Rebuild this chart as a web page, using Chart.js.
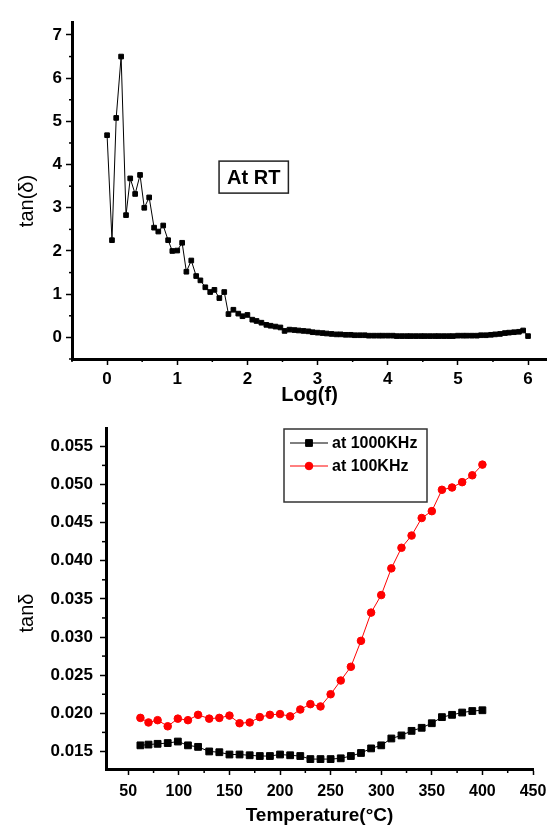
<!DOCTYPE html>
<html><head><meta charset="utf-8">
<script src="https://cdn.jsdelivr.net/npm/chart.js@4.4.1/dist/chart.umd.min.js"></script>
<style>
html,body{margin:0;padding:0;background:#fff;}
#wrap{position:relative;width:547px;height:827px;}
canvas{position:absolute;left:0;}
#c1{top:0;} #c2{top:410px;}
</style></head><body>
<div id="wrap"><canvas id="c1" width="547" height="410"></canvas><canvas id="c2" width="547" height="417"></canvas></div>
<script>
// ---------- Top chart data (tan δ vs log f at room temperature) ----------
const logF = [0.00,0.07,0.13,0.20,0.27,0.33,0.40,0.47,0.53,0.60,0.67,0.73,0.80,0.87,0.93,1.00,1.07,1.13,1.20,1.27,1.33,1.40,1.47,1.53,1.60,1.67,1.73,1.80,1.87,1.93,
  2.00,2.07,2.13,2.20,2.27,2.33,2.40,2.47,2.53,2.60,2.67,2.73,2.80,2.87,2.93,3.00,3.07,3.13,3.20,3.27,3.33,3.40,3.47,3.53,3.60,3.67,3.73,3.80,3.87,3.93,
  4.00,4.07,4.13,4.20,4.27,4.33,4.40,4.47,4.53,4.60,4.67,4.73,4.80,4.87,4.93,5.00,5.07,5.13,5.20,5.27,5.33,5.40,5.47,5.53,5.60,5.67,5.73,5.80,5.87,5.93,6.00];
const tanRT = [4.68,2.25,5.08,6.50,2.83,3.68,3.32,3.76,3.00,3.24,2.54,2.45,2.59,2.25,2.00,2.01,2.19,1.52,1.78,1.42,1.32,1.16,1.05,1.10,0.91,1.05,0.54,0.64,0.55,0.49,
  0.52,0.41,0.38,0.34,0.29,0.27,0.25,0.23,0.15,0.18,0.17,0.16,0.15,0.14,0.12,0.11,0.10,0.09,0.08,0.07,0.07,0.06,0.06,0.05,0.05,0.05,0.04,0.04,0.04,0.04,
  0.04,0.04,0.03,0.03,0.03,0.03,0.03,0.03,0.03,0.03,0.03,0.03,0.03,0.03,0.03,0.04,0.04,0.04,0.04,0.04,0.05,0.05,0.06,0.07,0.08,0.10,0.11,0.12,0.13,0.16,0.03];
const logTicks = [0,1,2,3,4,5,6];
const logMinor = [-0.5,0.5,1.5,2.5,3.5,4.5,5.5];
const tanTicksTop = [0,1,2,3,4,5,6,7];
const tanMinorTop = [-0.5,0.5,1.5,2.5,3.5,4.5,5.5,6.5];

// ---------- Bottom chart data (tan δ vs temperature) ----------
const temps = [62,70,79,89,99,109,119,130,140,150,160,170,180,190,200,210,220,230,240,250,260,270,280,290,300,310,320,330,340,350,360,370,380,390,400];
const tan1000 = [0.0158,0.0159,0.0160,0.0161,0.0163,0.0158,0.0156,0.0150,0.0149,0.0146,0.0146,0.0145,0.0144,0.0144,0.0146,0.0145,0.0144,0.0140,0.0140,0.0140,
  0.0141,0.0144,0.0148,0.0154,0.0158,0.0167,0.0171,0.0177,0.0181,0.0187,0.0195,0.0198,0.0201,0.0203,0.0204];
const tan100 = [0.0194,0.0188,0.0191,0.0183,0.0193,0.0191,0.0198,0.0193,0.0194,0.0197,0.0187,0.0188,0.0195,0.0198,0.0199,0.0196,0.0205,0.0212,0.0209,0.0225,
  0.0243,0.0261,0.0295,0.0332,0.0355,0.0390,0.0417,0.0433,0.0456,0.0465,0.0493,0.0496,0.0503,0.0512,0.0526];
const seriesLabels = ['at 1000KHz','at 100KHz'];
const tempTicks = [50,100,150,200,250,300,350,400,450];
const tempMinor = [75,125,175,225,275,325,375,425];
const tanTicksBot = [0.015,0.020,0.025,0.030,0.035,0.040,0.045,0.050,0.055];
const tanMinorBot = [0.0175,0.0225,0.0275,0.0325,0.0375,0.0425,0.0475,0.0525];

const FONT = "Arial, 'Liberation Sans', sans-serif";

// minor tick marks drawn through the chart's own scales
const minorTicks = {
  id: 'minorTicks',
  afterDraw(chart, args, o) {
    const ctx = chart.ctx, ca = chart.chartArea;
    ctx.save();
    ctx.strokeStyle = '#000'; ctx.lineWidth = 1.5;
    (o.x || []).forEach(v => {
      const px = chart.scales.x.getPixelForValue(v);
      ctx.beginPath(); ctx.moveTo(px, ca.bottom); ctx.lineTo(px, ca.bottom + o.len); ctx.stroke();
    });
    (o.y || []).forEach(v => {
      const py = chart.scales.y.getPixelForValue(v);
      ctx.beginPath(); ctx.moveTo(ca.left, py); ctx.lineTo(ca.left - o.len, py); ctx.stroke();
    });
    ctx.restore();
  }
};

// rotated y-axis title, placed beside the axis
const yTitle = {
  id: 'yTitle',
  afterDraw(chart, args, o) {
    if (!o.text) return;
    const ctx = chart.ctx;
    ctx.save();
    ctx.translate(o.x, o.y);
    ctx.rotate(-Math.PI / 2);
    ctx.font = o.size + 'px ' + FONT;
    ctx.fillStyle = '#000'; ctx.textAlign = 'center'; ctx.textBaseline = 'middle';
    ctx.fillText(o.text, 0, 0);
    ctx.restore();
  }
};

// boxed text label ("At RT")
const boxLabel = {
  id: 'boxLabel',
  afterDraw(chart, args, o) {
    if (!o.text) return;
    const ctx = chart.ctx;
    const cx = chart.scales.x.getPixelForValue(o.x), cy = chart.scales.y.getPixelForValue(o.y);
    ctx.save();
    ctx.font = 'bold ' + o.size + 'px ' + FONT;
    const w = ctx.measureText(o.text).width + 2 * o.padX, h = o.h;
    ctx.fillStyle = '#fff'; ctx.fillRect(cx - w / 2, cy - h / 2, w, h);
    ctx.strokeStyle = '#222'; ctx.lineWidth = 1.5; ctx.strokeRect(cx - w / 2, cy - h / 2, w, h);
    ctx.fillStyle = '#000'; ctx.textAlign = 'center'; ctx.textBaseline = 'middle';
    ctx.fillText(o.text, cx, cy + 1);
    ctx.restore();
  }
};

// boxed legend with line + marker samples
const boxLegend = {
  id: 'boxLegend',
  afterDraw(chart, args, o) {
    if (!o.show) return;
    const ctx = chart.ctx, ca = chart.chartArea;
    const L = ca.left + o.dx, T = ca.top + o.dy;
    ctx.save();
    ctx.strokeStyle = '#333'; ctx.lineWidth = 1.5;
    ctx.fillStyle = '#fff';
    ctx.fillRect(L, T, o.w, o.h); ctx.strokeRect(L, T, o.w, o.h);
    chart.data.datasets.forEach((ds, i) => {
      const y = T + 14 + i * 23;
      ctx.strokeStyle = ds.borderColor; ctx.lineWidth = 1;
      ctx.beginPath(); ctx.moveTo(L + 6, y); ctx.lineTo(L + 44, y); ctx.stroke();
      ctx.fillStyle = ds.pointBackgroundColor; ctx.strokeStyle = ds.pointBorderColor;
      Chart.helpers.drawPoint(ctx, {pointStyle: ds.pointStyle, radius: ds.pointRadius, borderWidth: 1, rotation: 0}, L + 25, y);
      ctx.fillStyle = '#000'; ctx.font = 'bold 16px ' + FONT; ctx.textAlign = 'left'; ctx.textBaseline = 'middle';
      ctx.fillText(ds.label, L + 48, y + 1);
    });
    ctx.restore();
  }
};

function axis(opts) {
  return Object.assign({
    type: 'linear',
    border: {display: true, color: '#000', width: 3},
    grid: {display: true, drawOnChartArea: false, drawTicks: true, tickLength: 6, tickColor: '#000', tickWidth: 1.5},
  }, opts);
}
function fixX(h) { return s => { s.height = h; s.paddingLeft = 0; s.paddingRight = 0; }; }
function fixY(w) { return s => { s.width = w; s.paddingTop = 0; s.paddingBottom = 0; }; }

// ---------- Top chart ----------
new Chart(document.getElementById('c1'), {
  type: 'scatter',
  data: {datasets: [{
    label: 'tan(δ) at RT',
    data: logF.map((x, i) => ({x: x, y: tanRT[i]})),
    showLine: true, borderColor: '#000', borderWidth: 1,
    pointStyle: 'rect', pointRadius: 3.3, pointHoverRadius: 3.3, pointBackgroundColor: '#000', pointBorderColor: '#000', pointBorderWidth: 1
  }]},
  options: {
    responsive: false, animation: false,
    layout: {autoPadding: false, padding: {top: 22, right: 0, bottom: 0, left: 0}},
    plugins: {
      legend: {display: false}, tooltip: {enabled: false},
      minorTicks: {x: logMinor, y: tanMinorTop, len: 3},
      boxLabel: {text: 'At RT', x: 2.09, y: 3.71, size: 20, padX: 8, h: 32},
      yTitle: {text: 'tan(δ)', x: 27, y: 201, size: 20}
    },
    scales: {
      x: axis({
        min: -0.5, max: 6.27,
        afterBuildTicks: s => { s.ticks = logTicks.map(v => ({value: v})); },
        afterFit: fixX(51),
        ticks: {color: '#000', font: {family: FONT, size: 17, weight: 'bold'}, padding: 4, maxRotation: 0, autoSkip: false},
        title: {display: true, text: 'Log(f)', color: '#000', font: {family: FONT, size: 20, weight: 'bold'}, padding: {top: 0, bottom: 3}}
      }),
      y: axis({
        min: -0.5, max: 7.3,
        afterBuildTicks: s => { s.ticks = tanTicksTop.map(v => ({value: v})); },
        afterFit: fixY(72),
        ticks: {color: '#000', font: {family: FONT, size: 17, weight: 'bold'}, padding: 4, autoSkip: false},
        title: {display: false}
      })
    }
  },
  plugins: [minorTicks, boxLabel, yTitle]
});

// ---------- Bottom chart ----------
new Chart(document.getElementById('c2'), {
  type: 'scatter',
  data: {datasets: [
    {label: seriesLabels[0], data: temps.map((t, i) => ({x: t, y: tan1000[i]})),
     showLine: true, borderColor: '#000', borderWidth: 1,
     pointStyle: 'rect', pointRadius: 4.8, pointHoverRadius: 4.8, pointBackgroundColor: '#000', pointBorderColor: '#000', pointBorderWidth: 1},
    {label: seriesLabels[1], data: temps.map((t, i) => ({x: t, y: tan100[i]})),
     showLine: true, borderColor: '#ff0000', borderWidth: 1,
     pointStyle: 'circle', pointRadius: 3.8, pointHoverRadius: 3.8, pointBackgroundColor: '#ff0000', pointBorderColor: '#ff0000', pointBorderWidth: 1}
  ]},
  options: {
    responsive: false, animation: false,
    layout: {autoPadding: false, padding: {top: 18, right: 14, bottom: 0, left: 0}},
    plugins: {
      legend: {display: false}, tooltip: {enabled: false},
      minorTicks: {x: tempMinor, y: tanMinorBot, len: 4},
      boxLegend: {show: true, dx: 178, dy: 1, w: 143, h: 73},
      yTitle: {text: 'tanδ', x: 27, y: 203, size: 20}
    },
    scales: {
      x: axis({
        min: 28, max: 450,
        afterBuildTicks: s => { s.ticks = tempTicks.map(v => ({value: v})); },
        afterFit: fixX(58),
        ticks: {color: '#000', font: {family: FONT, size: 16, weight: 'bold'}, padding: 7, maxRotation: 0, autoSkip: false},
        title: {display: true, text: 'Temperature(°C)', color: '#000', font: {family: FONT, size: 19, weight: 'bold'}, padding: {top: 0, bottom: 0}}
      }),
      y: axis({
        min: 0.0127, max: 0.0574,
        afterBuildTicks: s => { s.ticks = tanTicksBot.map(v => ({value: v})); },
        afterFit: fixY(106),
        ticks: {color: '#000', font: {family: FONT, size: 17, weight: 'bold'}, padding: 7, autoSkip: false, callback: v => v.toFixed(3)},
        title: {display: false}
      })
    }
  },
  plugins: [minorTicks, boxLegend, yTitle]
});
</script>
</body></html>
